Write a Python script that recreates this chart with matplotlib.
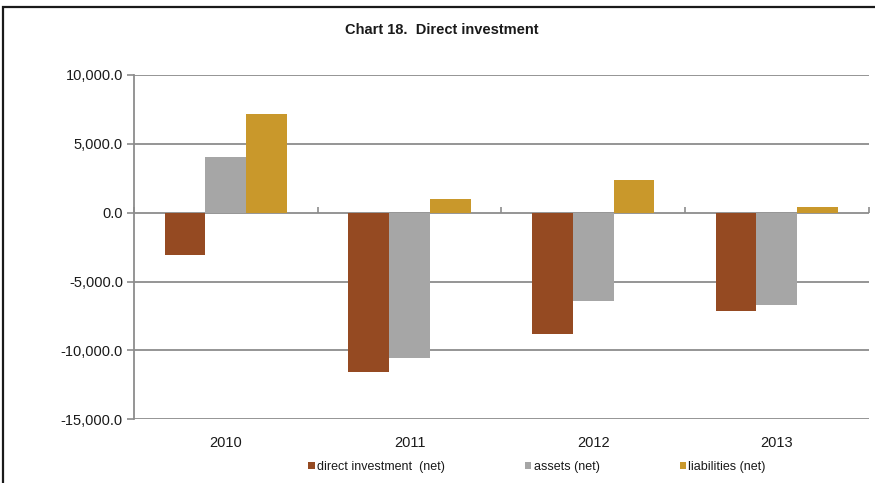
import matplotlib
matplotlib.use("Agg")
import matplotlib.pyplot as plt
import numpy as np
from matplotlib.ticker import FuncFormatter, MultipleLocator
from matplotlib.patches import Rectangle

plt.rcParams['font.family'] = ['Liberation Sans', 'DejaVu Sans']

years = ["2010", "2011", "2012", "2013"]
direct_investment = [-3100, -11570, -8840, -7150]
assets = [4030, -10580, -6430, -6720]
liabilities = [7150, 960, 2340, 380]
series_names = ["direct investment  (net)", "assets (net)", "liabilities (net)"]
colors = ["#954A22", "#A6A6A6", "#C9982B"]
y_ticks = [-15000, -10000, -5000, 0, 5000, 10000]

fig = plt.figure(figsize=(8.75, 4.83), dpi=100)
ax = fig.add_axes([134/875, 1-419.3/483, 734.7/875, 344.3/483])

x = np.arange(len(years))
w = 0.222
for i, (vals, name, c) in enumerate(zip([direct_investment, assets, liabilities], series_names, colors)):
    ax.bar(x + (i-1)*w, vals, width=w, color=c, label=name, edgecolor='none', zorder=3)

ax.set_xlim(-0.5, len(years)-0.5)
ax.set_ylim(min(y_ticks), max(y_ticks))
ax.set_yticks(y_ticks)
ax.yaxis.set_major_formatter(FuncFormatter(lambda v, p: f"{v:,.1f}"))
ax.grid(axis='y', color='#8C8C8C', linewidth=1.3, zorder=0)
ax.set_axisbelow(True)

for s in ['top', 'right', 'bottom']:
    ax.spines[s].set_visible(False)
ax.spines['left'].set_color('#8C8C8C')
ax.spines['left'].set_linewidth(1.3)
ax.tick_params(axis='y', colors='#8C8C8C', labelcolor='#1a1a1a', length=5, width=1.2,
               pad=3, labelsize=10.5)
ax.set_xticks(x)
ax.set_xticklabels(years)
ax.tick_params(axis='x', length=0, pad=12, labelsize=10.5, labelcolor='#1a1a1a')

# zero line with category-boundary tick marks
ymin, ymax = ax.get_ylim()
zero_frac = (0 - ymin) / (ymax - ymin)
sec = ax.secondary_xaxis(zero_frac)
sec.set_xticks(np.arange(len(years)+1) - 0.5)
sec.tick_params(axis='x', direction='out', length=4, width=1.2, colors='#8C8C8C', labelbottom=False, labeltop=False)
sec.spines['bottom'].set_color('#8C8C8C')
sec.spines['bottom'].set_linewidth(2)
sec.spines['bottom'].set_zorder(4)
for s in ['top', 'left', 'right']:
    sec.spines[s].set_visible(False)

fig.text(442/875, 1-30/483, "Chart 18.  Direct investment", ha='center', va='center',
         fontsize=10.5, fontweight='bold', color='#1a1a1a')

leg = fig.legend(loc='center', bbox_to_anchor=(537/875, 1-467/483), ncol=3, frameon=False,
                 fontsize=9, handlelength=0.5, handleheight=0.5, handletextpad=0.2,
                 columnspacing=6.4, borderaxespad=0)
for t in leg.get_texts():
    t.set_color('#1a1a1a')

fig.patches.append(Rectangle((3/875, -0.2), 2, 1.2 - 7/483, transform=fig.transFigure,
                             fill=False, edgecolor='#1a1a1a', linewidth=1.6))

fig.savefig("out.png", dpi=100)
